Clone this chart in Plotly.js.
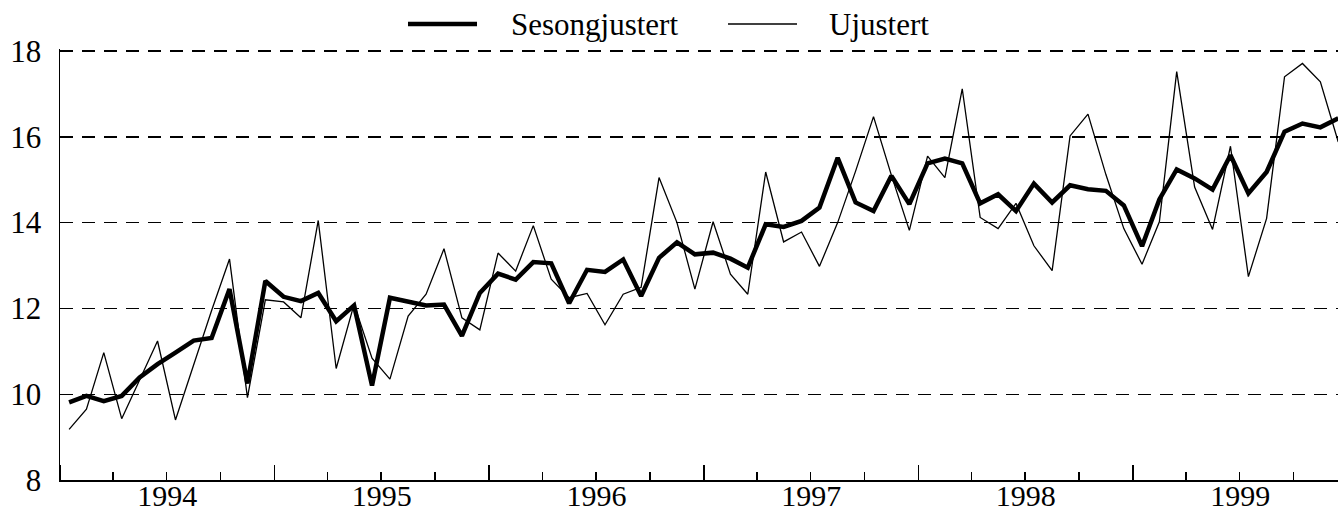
<!DOCTYPE html>
<html>
<head>
<meta charset="utf-8">
<script src="https://cdn.plot.ly/plotly-3.0.1.min.js"></script>
<style>
  html, body { margin: 0; padding: 0; background: #ffffff; }
  #chart { width: 1338px; height: 514px; }
</style>
</head>
<body>
<div id="chart"></div>
<script>
// Months (monthly observations, Jan 1994 - Dec 1999)
const months = [
  "1994-01","1994-02","1994-03","1994-04","1994-05","1994-06","1994-07","1994-08","1994-09","1994-10","1994-11","1994-12",
  "1995-01","1995-02","1995-03","1995-04","1995-05","1995-06","1995-07","1995-08","1995-09","1995-10","1995-11","1995-12",
  "1996-01","1996-02","1996-03","1996-04","1996-05","1996-06","1996-07","1996-08","1996-09","1996-10","1996-11","1996-12",
  "1997-01","1997-02","1997-03","1997-04","1997-05","1997-06","1997-07","1997-08","1997-09","1997-10","1997-11","1997-12",
  "1998-01","1998-02","1998-03","1998-04","1998-05","1998-06","1998-07","1998-08","1998-09","1998-10","1998-11","1998-12",
  "1999-01","1999-02","1999-03","1999-04","1999-05","1999-06","1999-07","1999-08","1999-09","1999-10","1999-11","1999-12"
];

// Seasonally adjusted series
const sesongjustert = [
  9.81, 9.96, 9.84, 9.96, 10.39, 10.70, 10.97, 11.25, 11.31, 12.45, 10.25, 12.64,
  12.27, 12.17, 12.36, 11.70, 12.07, 10.20, 12.25, 12.17, 12.07, 12.09, 11.36, 12.36,
  12.81, 12.67, 13.08, 13.05, 12.12, 12.90, 12.85, 13.14, 12.29, 13.18, 13.54, 13.26,
  13.30, 13.16, 12.95, 13.96, 13.90, 14.04, 14.35, 15.51, 14.47, 14.27, 15.09, 14.43,
  15.38, 15.49, 15.38, 14.45, 14.66, 14.27, 14.91, 14.47, 14.87, 14.78, 14.74, 14.40,
  13.45, 14.54, 15.24, 15.03, 14.77, 15.57, 14.68, 15.18, 16.12, 16.31, 16.22, 16.43
];

// Unadjusted series
const ujustert = [
  9.18, 9.65, 10.97, 9.43, 10.33, 11.24, 9.40, 10.68, 11.95, 13.15, 9.92, 12.20,
  12.15, 11.78, 14.05, 10.60, 12.10, 10.84, 10.35, 11.82, 12.33, 13.39, 11.78, 11.50,
  13.29, 12.87, 13.93, 12.68, 12.25, 12.35, 11.62, 12.33, 12.49, 15.05, 14.00, 12.45,
  14.02, 12.80, 12.33, 15.18, 13.55, 13.78, 12.98, 14.00, 15.20, 16.47, 15.10, 13.82,
  15.55, 15.05, 17.12, 14.12, 13.86, 14.45, 13.46, 12.88, 16.02, 16.53, 15.12, 13.86,
  13.03, 14.02, 17.52, 14.83, 13.84, 15.78, 12.74, 14.10, 17.40, 17.71, 17.28, 15.88
];

const seriesNames = ["Sesongjustert", "Ujustert"];
const yTicks = [8, 10, 12, 14, 16, 18];

const FONT = "Liberation Serif, Times New Roman, serif";

const traces = [
  {
    x: months, y: sesongjustert, name: seriesNames[0], type: "scatter", mode: "lines",
    xperiod: "M1", xperiodalignment: "middle",
    line: { color: "#000000", width: 4.5 }, showlegend: false
  },
  {
    x: months, y: ujustert, name: seriesNames[1], type: "scatter", mode: "lines",
    xperiod: "M1", xperiodalignment: "middle",
    line: { color: "#000000", width: 1.3 }, showlegend: false
  }
];

const legY = 1.0580;
const layout = {
  width: 1338, height: 514,
  margin: { l: 60, r: 0, t: 49, b: 34, pad: 0 },
  paper_bgcolor: "#ffffff", plot_bgcolor: "#ffffff",
  font: { family: FONT, size: 31, color: "#000000" },
  showlegend: false,
  xaxis: {
    type: "date",
    range: ["1994-01-01", "1999-12-16"],
    tick0: "1994-01-01", dtick: "M12",
    tickformat: "%Y", ticklabelmode: "period",
    ticks: "inside", ticklen: 15, tickwidth: 1.5, tickcolor: "#000000",
    minor: { dtick: "M3", tick0: "1994-01-01", ticks: "inside", ticklen: 8, tickwidth: 1.5, tickcolor: "#000000", showgrid: false },
    showgrid: false, zeroline: false,
    showline: true, linecolor: "#000000", linewidth: 1.5,
    tickfont: { family: FONT, size: 30, color: "#000000" },
    ticklabelstandoff: -12,
    fixedrange: true
  },
  yaxis: {
    range: [8, 18.047],
    tickvals: yTicks,
    ticktext: yTicks.map(String),
    ticks: "", showgrid: true, gridcolor: "#000000", gridwidth: 1.4, griddash: "13px,9px",
    zeroline: false,
    showline: true, linecolor: "#000000", linewidth: 1.5,
    tickfont: { family: FONT, size: 31, color: "#000000" },
    ticklabelstandoff: 11,
    fixedrange: true
  },
  shapes: [
    { type: "line", xref: "paper", yref: "paper", x0: 0.2723, x1: 0.3263, y0: legY, y1: legY, line: { color: "#000000", width: 4.5 } },
    { type: "line", xref: "paper", yref: "paper", x0: 0.5227, x1: 0.5767, y0: legY, y1: legY, line: { color: "#000000", width: 1.3 } }
  ],
  annotations: [
    { xref: "paper", yref: "paper", x: 0.3513, y: legY, xanchor: "left", yanchor: "middle", text: seriesNames[0], showarrow: false, font: { family: FONT, size: 31, color: "#000000" } },
    { xref: "paper", yref: "paper", x: 0.6001, y: legY, xanchor: "left", yanchor: "middle", text: seriesNames[1], showarrow: false, font: { family: FONT, size: 31, color: "#000000" } }
  ]
};

Plotly.newPlot("chart", traces, layout, { staticPlot: true, displayModeBar: false });
</script>
</body>
</html>
